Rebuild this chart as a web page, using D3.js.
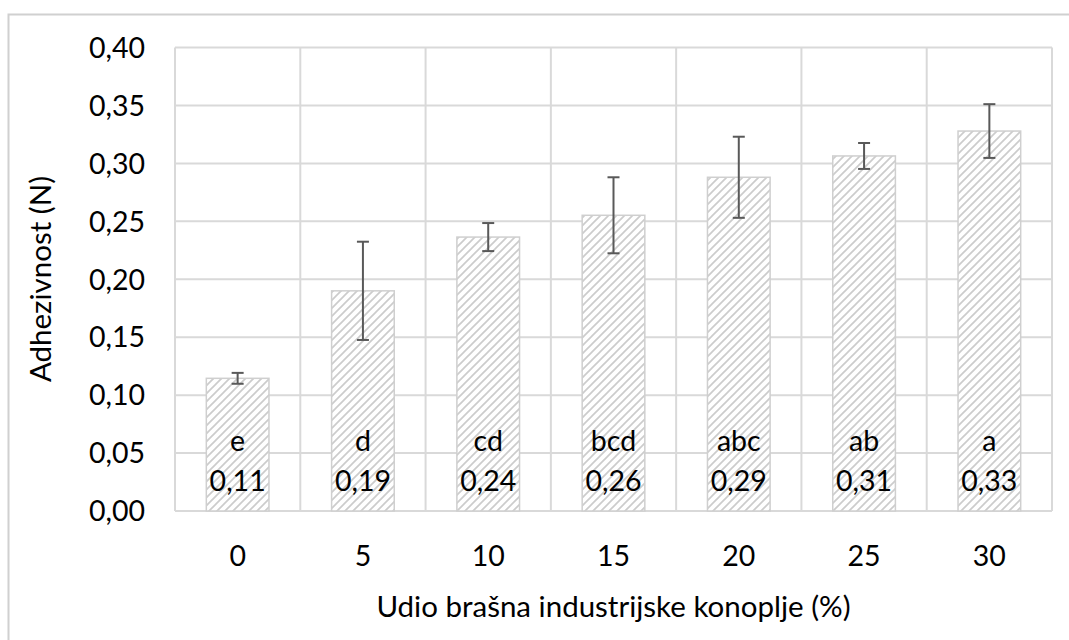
<!DOCTYPE html>
<html><head><meta charset="utf-8">
<script src="https://cdn.jsdelivr.net/npm/d3@7"></script>
<style>body{margin:0;background:#fff}svg{display:block}text{font-family:Lato,"Open Sans",sans-serif;fill:#000}</style>
</head><body><svg id="c" width="1069" height="640"></svg>
<script>
const categories = ["0","5","10","15","20","25","30"];
const values = [0.1145, 0.190, 0.2364, 0.2552, 0.288, 0.3064, 0.3279];
const errors = [0.0047, 0.0424, 0.0121, 0.0328, 0.035, 0.0112, 0.0232];
const letters = ["e","d","cd","bcd","abc","ab","a"];
const valueLabels = ["0,11","0,19","0,24","0,26","0,29","0,31","0,33"];
const yTicks = [0,0.05,0.10,0.15,0.20,0.25,0.30,0.35,0.40];
const xTitle = "Udio brašna industrijske konoplje (%)";
const yTitle = "Adhezivnost (N)";

const svg = d3.select("#c");
const L=175, R=1052, T=47.5, B=511;
const FS = 28.5, TFS = 29.5;
const fmt = v => d3.format(".2f")(v).replace(".", ",");

// outer border
svg.append("rect").attr("x",8.5).attr("y",14.5).attr("width",1100).attr("height",700)
  .attr("fill","#fff").attr("stroke","#d0d0d0").attr("stroke-width",2);

const defs = svg.append("defs");
const pat = defs.append("pattern").attr("id","hatch").attr("patternUnits","userSpaceOnUse")
  .attr("width",8).attr("height",8);
pat.append("rect").attr("width",8).attr("height",8).attr("fill","#fff");
pat.append("path").attr("d","M-2,2 L2,-2 M0,8 L8,0 M6,10 L10,6")
  .attr("stroke","#cccccc").attr("stroke-width",1.7);

const x = d3.scaleBand().domain(categories).range([L,R]).paddingInner(0).paddingOuter(0);
const y = d3.scaleLinear().domain([0,0.40]).range([B,T]);
const bw = x.bandwidth()*0.5;

// horizontal gridlines
svg.append("g").selectAll("line").data(yTicks).join("line")
  .attr("x1",L).attr("x2",R).attr("y1",d=>y(d)).attr("y2",d=>y(d))
  .attr("stroke","#d9d9d9").attr("stroke-width",2);
// vertical gridlines at band boundaries
const bounds = categories.map(c=>x(c)).concat([R]);
svg.append("g").selectAll("line").data(bounds).join("line")
  .attr("x1",d=>d).attr("x2",d=>d).attr("y1",T).attr("y2",B)
  .attr("stroke","#d9d9d9").attr("stroke-width",2);

// y tick labels
svg.append("g").selectAll("text").data(yTicks).join("text")
  .attr("x",145).attr("y",d=>y(d)).attr("dy","0.36em").attr("text-anchor","end")
  .attr("font-size",FS).text(fmt);
// x tick labels
svg.append("g").selectAll("text").data(categories).join("text")
  .attr("x",d=>x(d)+x.bandwidth()/2).attr("y",556).attr("dy","0.36em").attr("text-anchor","middle")
  .attr("font-size",FS).text(d=>d);

// bars
const data = categories.map((c,i)=>({c, v:values[i], e:errors[i], l:letters[i], vl:valueLabels[i]}));
svg.append("g").selectAll("rect").data(data).join("rect")
  .attr("x",d=>x(d.c)+x.bandwidth()/2-bw/2).attr("width",bw)
  .attr("y",d=>y(d.v)).attr("height",d=>B-y(d.v))
  .attr("fill","url(#hatch)").attr("stroke","#cfcfcf").attr("stroke-width",1.5);

// error bars
const eg = svg.append("g").attr("stroke","#595959").attr("stroke-width",2);
data.forEach(d=>{
  const cx = x(d.c)+x.bandwidth()/2;
  eg.append("line").attr("x1",cx).attr("x2",cx).attr("y1",y(d.v+d.e)).attr("y2",y(d.v-d.e));
  eg.append("line").attr("x1",cx-6).attr("x2",cx+6).attr("y1",y(d.v+d.e)).attr("y2",y(d.v+d.e));
  eg.append("line").attr("x1",cx-6).attr("x2",cx+6).attr("y1",y(d.v-d.e)).attr("y2",y(d.v-d.e));
});

// bar labels
const lg = svg.append("g");
lg.selectAll("text.l").data(data).join("text").attr("class","l")
  .attr("x",d=>x(d.c)+x.bandwidth()/2).attr("y",441).attr("dy","0.36em").attr("text-anchor","middle")
  .attr("font-size",FS).text(d=>d.l);
lg.selectAll("text.v").data(data).join("text").attr("class","v")
  .attr("x",d=>x(d.c)+x.bandwidth()/2).attr("y",481).attr("dy","0.36em").attr("text-anchor","middle")
  .attr("font-size",FS).text(d=>d.vl);

// titles
svg.append("text").attr("x",(L+R)/2).attr("y",606).attr("dy","0.36em").attr("text-anchor","middle")
  .attr("font-size",TFS).text(xTitle);
svg.append("text").attr("transform","translate(40,279) rotate(-90)").attr("dy","0.36em")
  .attr("text-anchor","middle").attr("font-size",TFS).text(yTitle);
</script></body></html>
